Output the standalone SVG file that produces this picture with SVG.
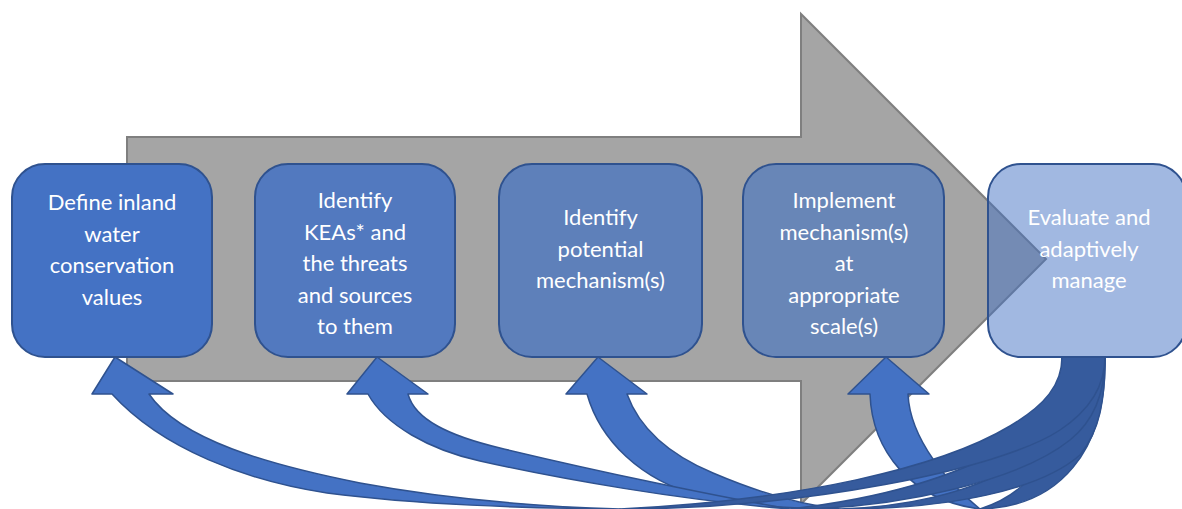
<svg xmlns="http://www.w3.org/2000/svg" width="1182" height="509" viewBox="0 0 1182 509">
<style>
.box{stroke:#2F528F;stroke-width:2}
.lbl{font-family:Lato,"Open Sans","Liberation Sans",sans-serif;font-size:22px;fill:#FFFFFF;text-anchor:middle}
.lt{fill:#4472C4;stroke:#2F528F;stroke-width:1.5;stroke-linejoin:round}
.dk{fill:#365B9D;stroke:#2F528F;stroke-width:1.5;stroke-linejoin:round}
</style>
<rect width="1182" height="509" fill="#FFFFFF"/>
<g id="process-arrow">
<polygon points="127,137 801,137 801,14 1046,259 801,504 801,381 127,381" fill="#A5A5A5" stroke="#7F7F7F" stroke-width="2"/>
</g>
<g id="connectors">
<g id="loop-to-implement">
<path class="dk" d="M980,509 C1060,507 1107,450 1105,357 L1062,357 C1065,440 1040,490 980,509 Z"/>
<path class="lt" d="M870,394 C872,450 910,500 980,509 C950,485 910,440 908,394 L929,394 L886,357 L848,394 Z"/>
</g>
<g id="loop-to-mechanisms">
<path class="dk" d="M840,509 C950,509 1040,490 1080,455 C1100,430 1105,400 1105,357 L1062,357 C1062,410 1050,440 1020,462 C970,495 900,507 840,509 Z"/>
<path class="lt" d="M587,394 C600,440 640,480 700,496 C740,505 790,509 840,509 C800,505 760,493 713,473 C670,455 640,430 627,394 L647,394 L598,357 L566,394 Z"/>
</g>
<g id="loop-to-keas">
<path class="dk" d="M790,509 C900,509 1020,480 1070,440 C1095,420 1105,390 1105,357 L1062,357 C1062,400 1045,425 1010,445 C950,480 870,500 790,509 Z"/>
<path class="lt" d="M368,394 C385,425 430,450 480,461 C560,479 680,500 790,509 C720,497 600,472 500,448 C450,436 415,420 408,394 L428,394 L377,357 L347,394 Z"/>
</g>
<g id="loop-to-values">
<path class="dk" d="M620,509 C800,509 1000,470 1060,430 C1090,410 1105,385 1105,357 L1062,357 C1062,385 1045,405 1010,426 C940,468 800,500 620,509 Z"/>
<path class="lt" d="M112,394 C162,449 247,481 327,493 C420,505 520,508 620,509 C520,506 430,496 360,483 C270,465 180,440 149,394 L173,394 L115,357 L92,394 Z"/>
</g>
</g>
<g id="node-define">
<rect class="box" x="12" y="164" width="200" height="193" rx="33" fill="#4472C4"/>
<text class="lbl" x="112"><tspan x="112" y="210">Define inland</tspan><tspan x="112" y="241.5">water</tspan><tspan x="112" y="273">conservation</tspan><tspan x="112" y="304.5">values</tspan></text>
</g>
<g id="node-identify-keas">
<rect class="box" x="255" y="164" width="200" height="193" rx="33" fill="#5279BF"/>
<text class="lbl"><tspan x="355" y="208">Identify</tspan><tspan x="355" y="239.5">KEAs* and</tspan><tspan x="355" y="271">the threats</tspan><tspan x="355" y="302.5">and sources</tspan><tspan x="355" y="334">to them</tspan></text>
</g>
<g id="node-identify-mechanisms">
<rect class="box" x="499" y="164" width="203" height="193" rx="33" fill="#5E80BA"/>
<text class="lbl"><tspan x="600.5" y="225">Identify</tspan><tspan x="600.5" y="256.5">potential</tspan><tspan x="600.5" y="288">mechanism(s)</tspan></text>
</g>
<g id="node-implement">
<rect class="box" x="743" y="164" width="201" height="193" rx="33" fill="#6886B7"/>
<text class="lbl"><tspan x="844" y="208">Implement</tspan><tspan x="844" y="239.5">mechanism(s)</tspan><tspan x="844" y="271">at</tspan><tspan x="844" y="302.5">appropriate</tspan><tspan x="844" y="334">scale(s)</tspan></text>
</g>
<g id="node-evaluate">
<rect class="box" x="988" y="164" width="198" height="193" rx="33" fill="#4472C4" fill-opacity="0.5"/>
<text class="lbl"><tspan x="1089" y="225">Evaluate and</tspan><tspan x="1089" y="256.5">adaptively</tspan><tspan x="1089" y="288">manage</tspan></text>
</g>
</svg>
